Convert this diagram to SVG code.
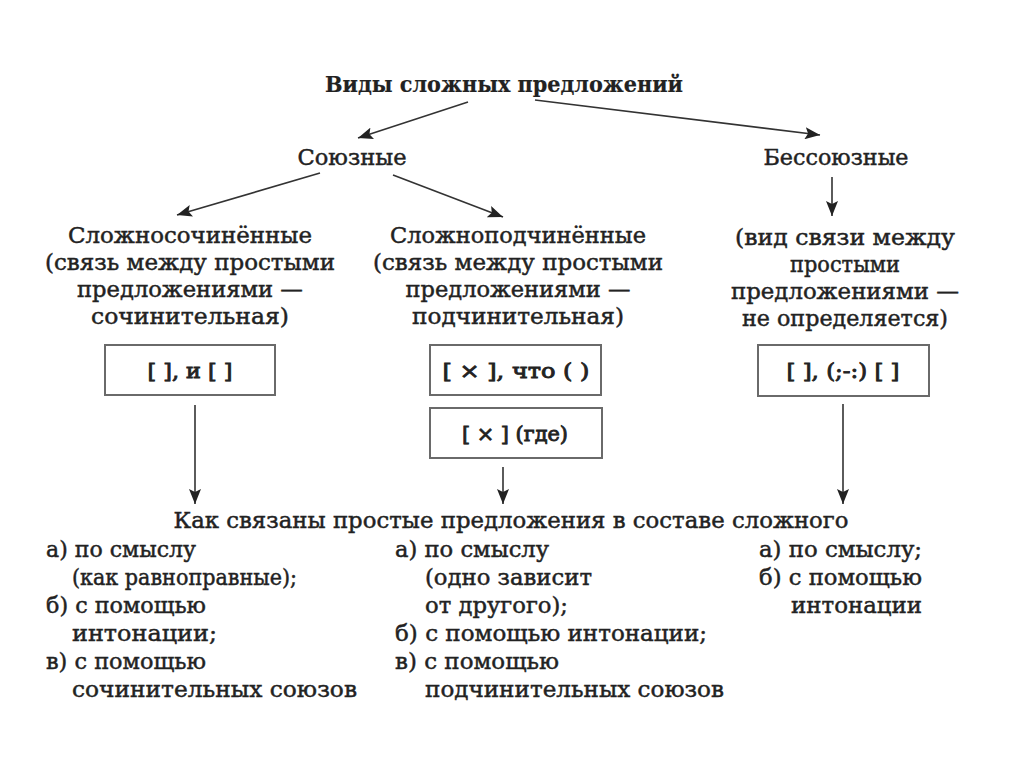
<svg xmlns="http://www.w3.org/2000/svg" width="1024" height="767" viewBox="0 0 1024 767">
<defs>
<marker id="ah" markerUnits="userSpaceOnUse" markerWidth="16" markerHeight="12" refX="15" refY="6" orient="auto">
<path d="M0,0 L15,6 L0,12 L3,6 z" fill="#222"/>
</marker>
<style>
text{font-family:"DejaVu Serif","Liberation Serif",serif;fill:#222;stroke:#222;stroke-width:0.45;font-size:22px}
.c{text-anchor:middle}
.t{font-weight:bold;font-size:22px;stroke-width:0.2}
.h{font-size:22px}
.b{stroke-width:0.9;font-size:21px}
.box{fill:#fff;stroke:#6a6a6a;stroke-width:2}
.ln{stroke:#333;stroke-width:1.6;fill:none;marker-end:url(#ah)}
</style>
</defs>
<rect width="1024" height="767" fill="#fff"/>
<g id="title"><text class="c t" x="504" y="92" textLength="358" lengthAdjust="spacingAndGlyphs">Виды сложных предложений</text></g>
<g id="soyuznye"><text class="c h" x="352" y="165" textLength="109" lengthAdjust="spacingAndGlyphs">Союзные</text></g>
<g id="bessoyuznye"><text class="c h" x="836" y="165" textLength="145" lengthAdjust="spacingAndGlyphs">Бессоюзные</text></g>
<g id="ssp">
<text class="c" x="190" y="243" textLength="244" lengthAdjust="spacingAndGlyphs">Сложносочинённые</text>
<text class="c" x="190" y="270" textLength="290" lengthAdjust="spacingAndGlyphs">(связь между простыми</text>
<text class="c" x="190" y="297" textLength="226" lengthAdjust="spacingAndGlyphs">предложениями —</text>
<text class="c" x="190" y="324" textLength="198" lengthAdjust="spacingAndGlyphs">сочинительная)</text>
</g>
<g id="spp">
<text class="c" x="518" y="243" textLength="256" lengthAdjust="spacingAndGlyphs">Сложноподчинённые</text>
<text class="c" x="518" y="270" textLength="290" lengthAdjust="spacingAndGlyphs">(связь между простыми</text>
<text class="c" x="518" y="297" textLength="225" lengthAdjust="spacingAndGlyphs">предложениями —</text>
<text class="c" x="518" y="324" textLength="212" lengthAdjust="spacingAndGlyphs">подчинительная)</text>
</g>
<g id="bsp">
<text class="c" x="845" y="245" textLength="220" lengthAdjust="spacingAndGlyphs">(вид связи между</text>
<text class="c" x="845" y="272" textLength="110" lengthAdjust="spacingAndGlyphs">простыми</text>
<text class="c" x="845" y="299" textLength="228" lengthAdjust="spacingAndGlyphs">предложениями —</text>
<text class="c" x="845" y="326" textLength="206" lengthAdjust="spacingAndGlyphs">не определяется)</text>
</g>
<g id="box-ssp"><rect class="box" x="105" y="345" width="170" height="50"/><text class="c b" x="190" y="378" textLength="85" lengthAdjust="spacingAndGlyphs">[ ], и [ ]</text></g>
<g id="box-spp1"><rect class="box" x="430" y="345" width="171" height="50"/><text class="c b" x="516" y="378" textLength="147" lengthAdjust="spacingAndGlyphs">[ × ], что (   )</text></g>
<g id="box-spp2"><rect class="box" x="430" y="408" width="172" height="50"/><text class="c b" x="515" y="441" textLength="106" lengthAdjust="spacingAndGlyphs">[ × ] (где)</text></g>
<g id="box-bsp"><rect class="box" x="758" y="345" width="171" height="51"/><text class="c b" x="843" y="378" textLength="113" lengthAdjust="spacingAndGlyphs">[ ], (;-:) [ ]</text></g>
<g id="connectors">
<line class="ln" x1="468" y1="102" x2="358" y2="138"/>
<line class="ln" x1="535" y1="100" x2="820" y2="135"/>
<line class="ln" x1="320" y1="173" x2="177" y2="215"/>
<line class="ln" x1="393" y1="175" x2="503" y2="217"/>
<line class="ln" x1="832" y1="177" x2="832" y2="216"/>
<line class="ln" x1="195" y1="405" x2="195" y2="504"/>
<line class="ln" x1="503" y1="467" x2="503" y2="504"/>
<line class="ln" x1="843" y1="404" x2="843" y2="504"/>
</g>
<g id="how"><text class="c" x="511" y="528" textLength="675" lengthAdjust="spacingAndGlyphs">Как связаны простые предложения в составе сложного</text></g>
<g id="list-ssp">
<text x="46" y="557" textLength="150" lengthAdjust="spacingAndGlyphs">а) по смыслу</text>
<text x="72" y="585" textLength="225" lengthAdjust="spacingAndGlyphs">(как равноправные);</text>
<text x="46" y="613" textLength="160" lengthAdjust="spacingAndGlyphs">б) с помощью</text>
<text x="72" y="641" textLength="145" lengthAdjust="spacingAndGlyphs">интонации;</text>
<text x="46" y="669" textLength="160" lengthAdjust="spacingAndGlyphs">в) с помощью</text>
<text x="72" y="697" textLength="285" lengthAdjust="spacingAndGlyphs">сочинительных союзов</text>
</g>
<g id="list-spp">
<text x="395" y="557" textLength="154" lengthAdjust="spacingAndGlyphs">а) по смыслу</text>
<text x="425" y="585" textLength="167" lengthAdjust="spacingAndGlyphs">(одно зависит</text>
<text x="425" y="613" textLength="143" lengthAdjust="spacingAndGlyphs">от другого);</text>
<text x="395" y="641" textLength="312" lengthAdjust="spacingAndGlyphs">б) с помощью интонации;</text>
<text x="395" y="669" textLength="164" lengthAdjust="spacingAndGlyphs">в) с помощью</text>
<text x="425" y="697" textLength="299" lengthAdjust="spacingAndGlyphs">подчинительных союзов</text>
</g>
<g id="list-bsp">
<text x="759" y="557" textLength="163" lengthAdjust="spacingAndGlyphs">а) по смыслу;</text>
<text x="759" y="585" textLength="163" lengthAdjust="spacingAndGlyphs">б) с помощью</text>
<text x="791" y="613" textLength="131" lengthAdjust="spacingAndGlyphs">интонации</text>
</g>
</svg>
